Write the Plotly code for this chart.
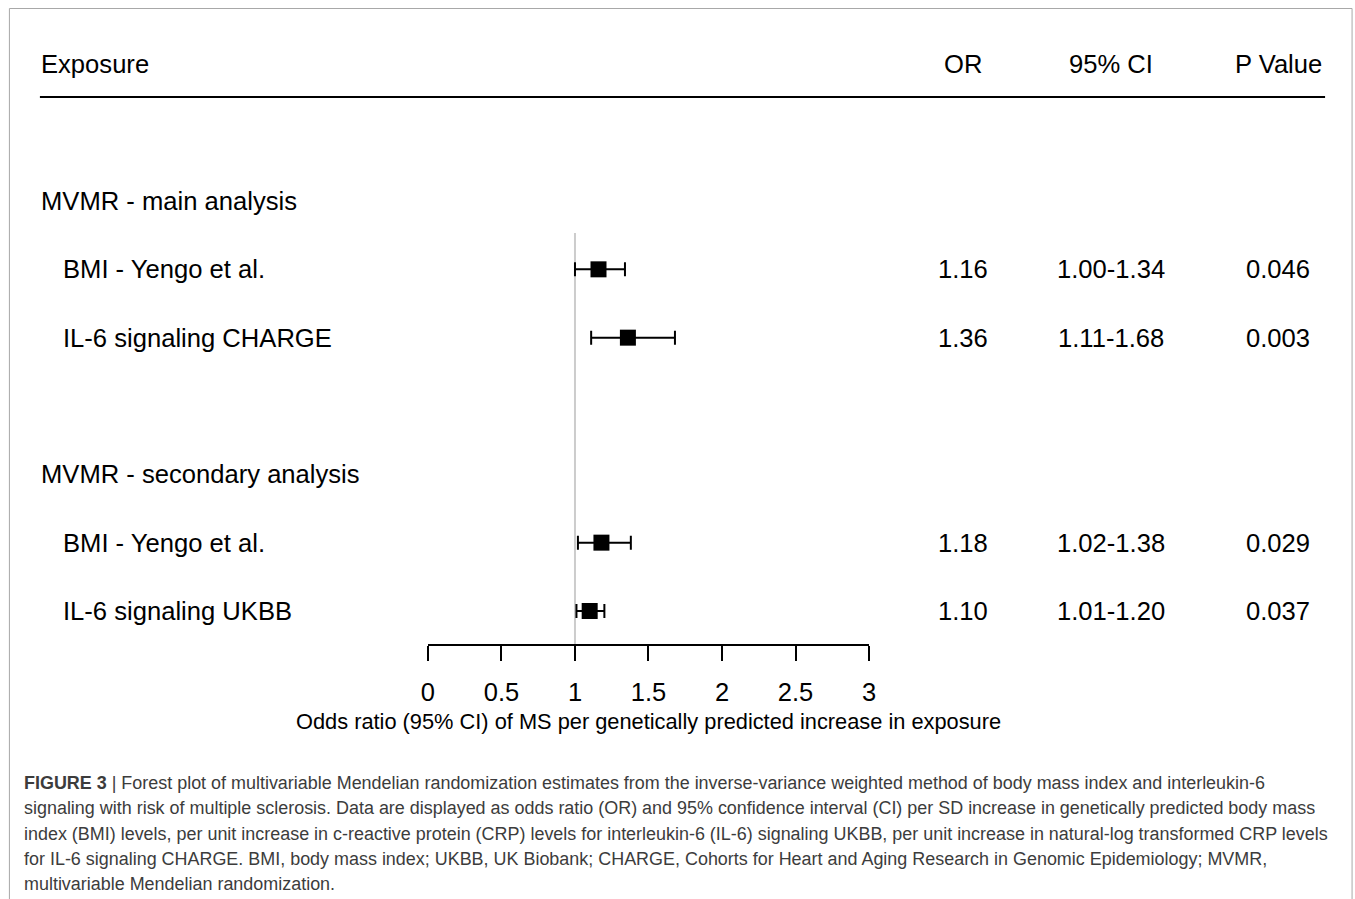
import plotly.graph_objects as go

# ---- data ----
groups = ["MVMR - main analysis", "MVMR - secondary analysis"]
exposures = ["BMI - Yengo et al.", "IL-6 signaling CHARGE", "BMI - Yengo et al.", "IL-6 signaling UKBB"]
or_vals = [1.16, 1.36, 1.18, 1.10]
ci_low = [1.00, 1.11, 1.02, 1.01]
ci_high = [1.34, 1.68, 1.38, 1.20]
or_text = ["1.16", "1.36", "1.18", "1.10"]
ci_text = ["1.00-1.34", "1.11-1.68", "1.02-1.38", "1.01-1.20"]
p_text = ["0.046", "0.003", "0.029", "0.037"]
tick_vals = [0, 0.5, 1, 1.5, 2, 2.5, 3]
tick_text = ["0", "0.5", "1", "1.5", "2", "2.5", "3"]
header_cols = ["OR", "95% CI", "P Value"]

# row layout (row index -> vertical slot)
group_rows = [0, 4]
exp_rows = [1, 2, 5, 6]

W, H = 1362, 899
FONT = "Liberation Sans, Arial, sans-serif"
FS = 25.6
ROW0_PX, ROW_STEP = 201, 68.33  # target pixels
y_top = -ROW0_PX / ROW_STEP
y_bot = (H - ROW0_PX) / ROW_STEP

# horizontal calibration of the photographed page
X_OFF, X_SCALE = 7.09, 0.9896


def px_x(p):
    """target x pixel -> paper fraction"""
    return (p - X_OFF) / X_SCALE / W


def px_y(p):
    """target y pixel -> paper fraction"""
    return 1 - p / H


def row_of_px(p):
    return (p - ROW0_PX) / ROW_STEP


fig = go.Figure()
fig.add_trace(go.Scatter(
    x=or_vals, y=exp_rows, mode="markers",
    marker=dict(symbol="square", size=16, color="black"),
    error_x=dict(type="data", symmetric=False,
                 array=[h - o for h, o in zip(ci_high, or_vals)],
                 arrayminus=[o - l for o, l in zip(or_vals, ci_low)],
                 color="black", thickness=2, width=7),
    showlegend=False, hoverinfo="skip",
))

ann = []
# header
ann.append(dict(x=px_x(39), y=-2, xref="paper", yref="y", text="Exposure",
                xanchor="left", yanchor="middle", showarrow=False,
                font=dict(family=FONT, size=FS, color="black")))
col_x = [963, 1111, 1278]
for cx, t in zip(col_x, header_cols):
    ann.append(dict(x=px_x(cx), y=-2, xref="paper", yref="y", text=t,
                    xanchor="center", yanchor="middle", showarrow=False,
                    font=dict(family=FONT, size=FS, color="black")))
for g, r in zip(groups, group_rows):
    ann.append(dict(x=px_x(39), y=r, xref="paper", yref="y", text=g,
                    xanchor="left", yanchor="middle", showarrow=False,
                    font=dict(family=FONT, size=FS, color="black")))
for i, r in enumerate(exp_rows):
    ann.append(dict(x=px_x(61), y=r, xref="paper", yref="y", text=exposures[i],
                    xanchor="left", yanchor="middle", showarrow=False,
                    font=dict(family=FONT, size=FS, color="black")))
    for cx, t in zip(col_x, [or_text[i], ci_text[i], p_text[i]]):
        ann.append(dict(x=px_x(cx), y=r, xref="paper", yref="y", text=t,
                        xanchor="center", yanchor="middle", showarrow=False,
                        font=dict(family=FONT, size=FS, color="black")))

# axis title
ann.append(dict(x=px_x(649), y=row_of_px(721), xref="paper", yref="y",
                text="Odds ratio (95% CI) of MS per genetically predicted increase in exposure",
                xanchor="center", yanchor="middle", showarrow=False,
                font=dict(family=FONT, size=21.8, color="black")))

# caption
caption = [
    "<b>FIGURE 3</b> | Forest plot of multivariable Mendelian randomization estimates from the inverse-variance weighted method of body mass index and interleukin-6",
    "signaling with risk of multiple sclerosis. Data are displayed as odds ratio (OR) and 95% confidence interval (CI) per SD increase in genetically predicted body mass",
    "index (BMI) levels, per unit increase in c-reactive protein (CRP) levels for interleukin-6 (IL-6) signaling UKBB, per unit increase in natural-log transformed CRP levels",
    "for IL-6 signaling CHARGE. BMI, body mass index; UKBB, UK Biobank; CHARGE, Cohorts for Heart and Aging Research in Genomic Epidemiology; MVMR,",
    "multivariable Mendelian randomization.",
]
cap_y = [783, 808.3, 833.6, 858.9, 884]
for t, yp in zip(caption, cap_y):
    ann.append(dict(x=px_x(22), y=row_of_px(yp), xref="paper", yref="y", text=t,
                    xanchor="left", yanchor="middle", showarrow=False,
                    font=dict(family=FONT, size=17.95, color="#3c3c3c")))

shapes = [
    # header rule
    dict(type="line", xref="paper", yref="y", x0=px_x(40), x1=px_x(1325),
         y0=row_of_px(97), y1=row_of_px(97), line=dict(color="black", width=2)),
    # reference line at OR = 1
    dict(type="line", xref="x", yref="y", x0=1, x1=1,
         y0=row_of_px(233), y1=row_of_px(645), line=dict(color="#cccccc", width=2),
         layer="below"),
    # outer frame
    dict(type="rect", xref="paper", yref="paper", x0=px_x(9.5), x1=min(px_x(1352), 0.9995),
         y0=-0.05, y1=px_y(8.5), line=dict(color="#a8a8a8", width=1)),
]

fig.update_layout(
    width=W, height=H, margin=dict(l=0, r=0, t=0, b=0),
    paper_bgcolor="white", plot_bgcolor="white",
    annotations=ann, shapes=shapes,
    xaxis=dict(domain=[px_x(428), px_x(869)], range=[0, 3], anchor="free",
               position=px_y(645), showline=True, linecolor="black", linewidth=2,
               ticks="outside", ticklen=15, tickwidth=2, tickcolor="black",
               tickvals=tick_vals, ticktext=tick_text, showgrid=False, zeroline=False,
               ticklabelstandoff=9,
               tickfont=dict(family=FONT, size=25.5, color="black")),
    yaxis=dict(domain=[0, 1], range=[y_bot, y_top], visible=False,
               showgrid=False, zeroline=False),
)

fig.write_html("out.html", config={"displayModeBar": False},
               post_script="document.documentElement.style.overflow='hidden';"
                           "document.body.style.margin='0px';"
                           "document.body.style.overflow='hidden';")
